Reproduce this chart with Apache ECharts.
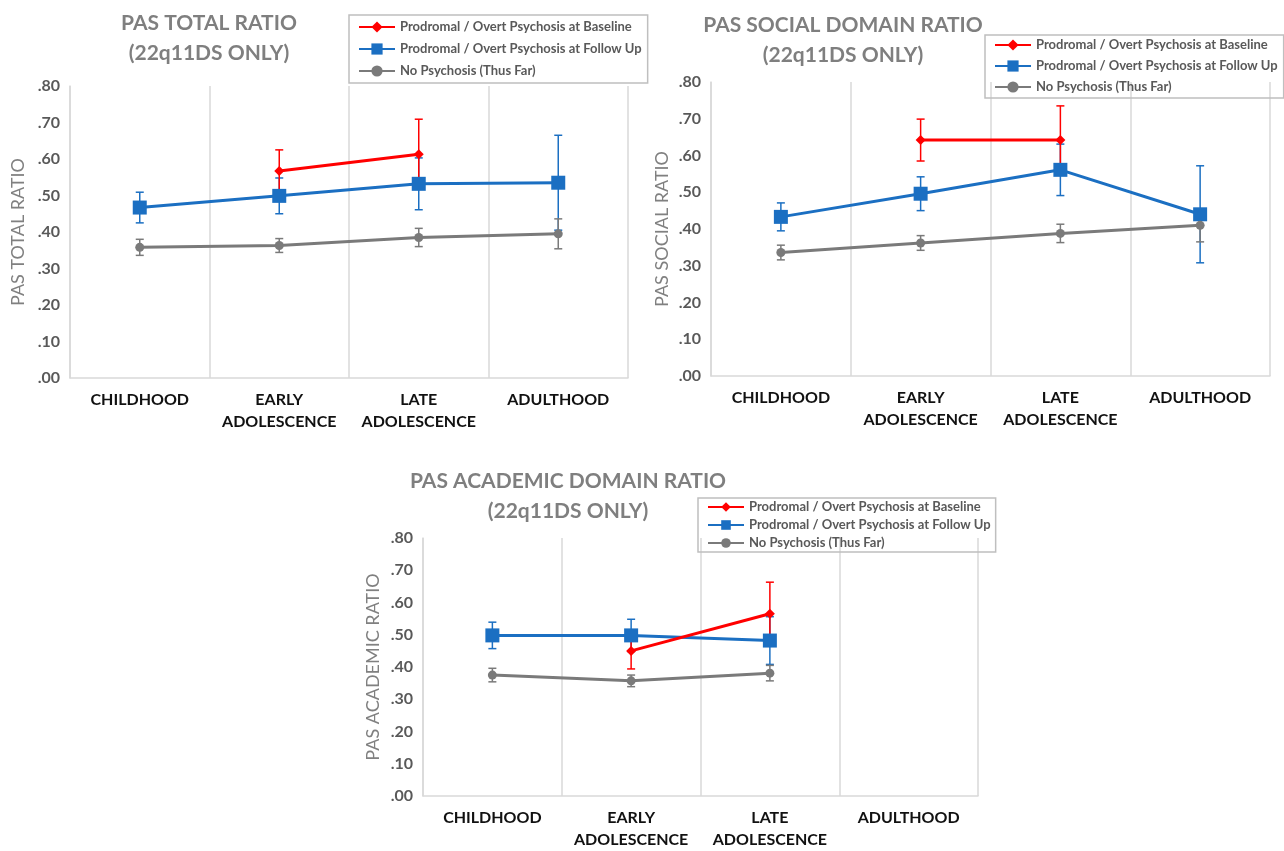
<!DOCTYPE html>
<html><head><meta charset="utf-8">
<script src="https://cdn.jsdelivr.net/npm/echarts@6/dist/echarts.min.js"></script>
<style>html,body{margin:0;padding:0;background:#fff}#c{width:1284px;height:851px}</style>
</head><body><div id="c"></div>
<script>
const categories = ['CHILDHOOD', 'EARLY\nADOLESCENCE', 'LATE\nADOLESCENCE', 'ADULTHOOD'];
const seriesNames = ['Prodromal / Overt Psychosis at Baseline', 'Prodromal / Overt Psychosis at Follow Up', 'No Psychosis (Thus Far)'];
const yTicks = ['.00', '.10', '.20', '.30', '.40', '.50', '.60', '.70', '.80'];

// PAS total ratio
const totalBaseline = [null, 0.567, 0.613, null];
const totalBaselineErr = [null, 0.058, 0.096, null];
const totalFollowUp = [0.467, 0.499, 0.532, 0.535];
const totalFollowUpErr = [0.042, 0.049, 0.071, 0.130];
const totalNone = [0.358, 0.363, 0.385, 0.395];
const totalNoneErr = [0.022, 0.019, 0.025, 0.041];

// PAS social domain ratio
const socialBaseline = [null, 0.642, 0.642, null];
const socialBaselineErr = [null, 0.057, 0.093, null];
const socialFollowUp = [0.433, 0.496, 0.561, 0.440];
const socialFollowUpErr = [0.038, 0.046, 0.070, 0.132];
const socialNone = [0.336, 0.362, 0.388, 0.410];
const socialNoneErr = [0.020, 0.020, 0.025, 0.045];

// PAS academic domain ratio
const academicBaseline = [null, 0.450, 0.565, null];
const academicBaselineErr = [null, 0.056, 0.098, null];
const academicFollowUp = [0.498, 0.498, 0.482, null];
const academicFollowUpErr = [0.041, 0.050, 0.074, null];
const academicNone = [0.375, 0.357, 0.381, null];
const academicNoneErr = [0.021, 0.018, 0.024, null];

const RED = '#ff0000', BLUE = '#1b6fc2', GRAY = '#7a7a7a';
const FONT = 'Lato';

const panels = [
  { title: 'PAS TOTAL RATIO\n(22q11DS ONLY)', yName: 'PAS TOTAL RATIO', nameGap: 43, tx: 204, ty: 3,
    grid: { left: 70, top: 86, width: 558, height: 292 },
    legend: { left: 349, top: 15, gap: 8, ih: 14, pad: [5, 6, 5, 9] },
    data: [[totalBaseline, totalBaselineErr], [totalFollowUp, totalFollowUpErr], [totalNone, totalNoneErr]] },
  { title: 'PAS SOCIAL DOMAIN RATIO\n(22q11DS ONLY)', yName: 'PAS SOCIAL RATIO', nameGap: 40, tx: 838, ty: 5,
    grid: { left: 711, top: 82, width: 559, height: 294 },
    legend: { left: 985, top: 35, gap: 7, ih: 14, pad: [3, 6, 4, 9] },
    data: [[socialBaseline, socialBaselineErr], [socialFollowUp, socialFollowUpErr], [socialNone, socialNoneErr]] },
  { title: 'PAS ACADEMIC DOMAIN RATIO\n(22q11DS ONLY)', yName: 'PAS ACADEMIC RATIO', nameGap: 41, tx: 563, ty: 461,
    grid: { left: 423, top: 538, width: 555, height: 264 },
    legend: { left: 698, top: 498, gap: 4, ih: 12, pad: [2, 5, 2, 9] },
    data: [[academicBaseline, academicBaselineErr], [academicFollowUp, academicFollowUpErr], [academicNone, academicNoneErr]] }
];

const styles = [
  { color: RED, symbol: 'diamond', size: 10, width: 3 },
  { color: BLUE, symbol: 'rect', size: 14, width: 3 },
  { color: GRAY, symbol: 'circle', size: 9, width: 3 }
];

function errRender(color) {
  return function (params, api) {
    const x = api.value(0), lo = api.value(1), hi = api.value(2);
    const pHi = api.coord([x, hi]), pLo = api.coord([x, lo]);
    const c = 4;
    const st = { stroke: color, lineWidth: 1.5 };
    return { type: 'group', children: [
      { type: 'line', shape: { x1: pHi[0], y1: pHi[1], x2: pLo[0], y2: pLo[1] }, style: st },
      { type: 'line', shape: { x1: pHi[0] - c, y1: pHi[1], x2: pHi[0] + c, y2: pHi[1] }, style: st },
      { type: 'line', shape: { x1: pLo[0] - c, y1: pLo[1], x2: pLo[0] + c, y2: pLo[1] }, style: st }
    ] };
  };
}

const option = { animation: false, backgroundColor: '#fff', title: [], legend: [], grid: [], xAxis: [], yAxis: [], series: [] };

panels.forEach((p, i) => {
  option.title.push({ text: p.title, left: p.tx, top: p.ty, textAlign: 'center',
    textStyle: { fontFamily: FONT, fontSize: 21, fontWeight: 'bold', color: '#7f7f7f', lineHeight: 30 } });
  option.grid.push(Object.assign({ containLabel: false }, p.grid));
  option.xAxis.push({ type: 'category', gridIndex: i, data: categories, boundaryGap: true,
    axisLine: { show: true, lineStyle: { color: '#d9d9d9', width: 1.5 } }, axisTick: { show: false },
    splitLine: { show: true, lineStyle: { color: '#d9d9d9', width: 1.5 } },
    axisLabel: { interval: 0, margin: 11, fontFamily: FONT, fontSize: 16, fontWeight: 'bold', color: '#111', lineHeight: 22 } });
  option.yAxis.push({ type: 'value', gridIndex: i, min: 0, max: 0.8, interval: 0.1,
    name: p.yName, nameLocation: 'middle', nameGap: p.nameGap, nameRotate: 90,
    nameTextStyle: { fontFamily: FONT, fontSize: 18, color: '#808080' },
    axisLine: { show: true, lineStyle: { color: '#d9d9d9', width: 1.5 } }, axisTick: { show: false }, splitLine: { show: false },
    axisLabel: { margin: 10, fontFamily: FONT, fontSize: 16, fontWeight: 'bold', color: '#595959',
      formatter: (v) => yTicks[Math.round(v * 10)] } });
  const lg = p.legend;
  option.legend.push({ data: seriesNames, orient: 'vertical', left: lg.left, top: lg.top,
    itemGap: lg.gap, itemWidth: 36, itemHeight: lg.ih, padding: lg.pad,
    borderColor: '#bfbfbf', borderWidth: 1.5, selectedMode: false,
    textStyle: { fontFamily: FONT, fontSize: 13, lineHeight: 14, fontWeight: 'bold', color: '#595959' } });
  // draw order: follow up, none, baseline
  [1, 2, 0].forEach((k) => {
    const [vals, errs] = p.data[k];
    const s = styles[k];
    const errData = [];
    vals.forEach((v, j) => { if (v != null && errs[j] != null) errData.push([j, v - errs[j], v + errs[j]]); });
    option.series.push({ type: 'custom', name: 'err' + i + k, xAxisIndex: i, yAxisIndex: i, data: errData,
      encode: { x: 0, y: [1, 2] }, renderItem: errRender(s.color), z: 2, silent: true });
  });
  [1, 2, 0].forEach((k) => {
    const [vals] = p.data[k];
    const s = styles[k];
    option.series.push({ type: 'line', name: seriesNames[k], xAxisIndex: i, yAxisIndex: i, data: vals,
      symbol: s.symbol, symbolSize: s.size, showSymbol: true, connectNulls: false,
      lineStyle: { color: s.color, width: s.width }, itemStyle: { color: s.color }, z: 3 });
  });
});

const chart = echarts.init(document.getElementById('c'), null, { renderer: 'canvas' });
chart.setOption(option);
</script></body></html>
